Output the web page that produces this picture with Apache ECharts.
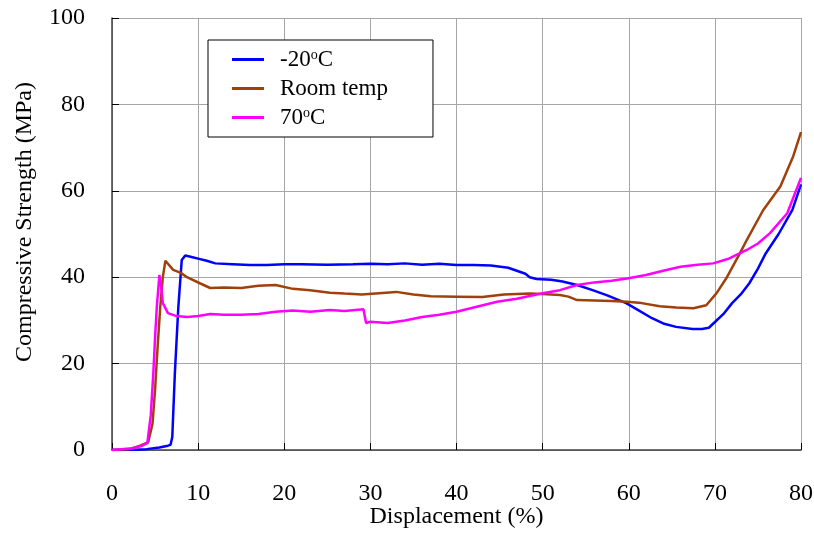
<!DOCTYPE html>
<html lang="en">
<head>
    <meta charset="UTF-8">
    <title>Compressive Strength</title>
    <style>
        html, body { margin: 0; padding: 0; background: #fff; }
    </style>
</head>
<body>
<div id="main" style="width: 814px;height:534px;"></div>
<script src="https://cdn.jsdelivr.net/npm/echarts@6/dist/echarts.min.js"></script>
<script>
    // 图例名称
    var seriesNames = ['-20oC', 'Room temp', '70oC'];

    // -20oC
    var coldX = [0, 2, 4, 5.5, 6.5, 6.8, 7.0, 7.3, 7.7, 8.1, 8.5, 9, 10, 11, 12, 14, 16, 18, 20, 22, 25, 28, 30, 32, 34, 36, 38, 40, 42, 44, 46, 47, 48, 48.5, 49.3, 51, 52.3, 54, 55.8, 57.5, 59.7, 61, 62.7, 64, 65.5, 67.4, 68.5, 69.3, 70.1, 71, 72, 73, 74, 75, 75.9, 77.4, 79, 80];
    var coldY = [0, 0, 0.2, 0.6, 1, 1.2, 3, 17.8, 33, 44, 45, 44.8, 44.3, 43.8, 43.2, 43, 42.8, 42.8, 43, 43, 42.9, 43, 43.1, 43, 43.2, 42.9, 43.1, 42.8, 42.8, 42.7, 42.2, 41.5, 40.8, 40, 39.6, 39.4, 39, 38.2, 37, 35.8, 34, 32.5, 30.5, 29.3, 28.5, 28, 28, 28.3, 29.8, 31.5, 34, 36, 38.6, 42, 45.5, 50, 55.6, 61.5];

    // Room temp
    var roomX = [0, 2, 3, 4.2, 4.7, 5, 5.3, 5.6, 5.9, 6.2, 6.4, 7.1, 8, 8.7, 10.2, 11.4, 13, 15, 17, 19, 21, 23, 25.3, 27, 29, 31, 33, 35, 37, 40, 43, 45.5, 48.5, 50, 52, 53, 54, 56, 58, 59.8, 61.5, 63.6, 65.5, 67.5, 69, 70.2, 71.4, 72.9, 73.7, 75.6, 77.6, 79.1, 80];
    var roomY = [0, 0.2, 0.8, 1.8, 6, 13.9, 24, 33, 40, 43.8, 43.5, 41.7, 41, 40, 38.6, 37.5, 37.6, 37.5, 38, 38.2, 37.3, 37, 36.4, 36.2, 36, 36.3, 36.6, 36, 35.6, 35.5, 35.4, 36, 36.2, 36.1, 35.9, 35.5, 34.7, 34.6, 34.5, 34.3, 34, 33.3, 33, 32.8, 33.5, 36.3, 40, 45.5, 48.6, 55.5, 61, 68, 73.6];

    // 70oC
    var hotX = [0, 2.4, 3.5, 4.1, 4.5, 4.8, 5, 5.2, 5.5, 5.7, 5.9, 6.5, 7.5, 8.7, 10, 11.4, 13, 15, 17, 19, 21, 23, 25.3, 27, 29.2, 29.5, 30, 32, 34, 36, 38, 40, 42, 44.7, 47, 50, 52, 54, 56, 58, 59.8, 62, 64, 66, 68, 69.8, 71.5, 73.7, 75, 76.4, 78.4, 80];
    var hotY = [0, 0.4, 1, 1.6, 8, 17.8, 26, 33, 40.5, 38, 34, 31.7, 31, 30.8, 31, 31.5, 31.3, 31.3, 31.5, 32, 32.3, 32, 32.4, 32.2, 32.6, 29.4, 29.7, 29.4, 30, 30.8, 31.3, 32, 33, 34.3, 35, 36.3, 37, 38.2, 38.8, 39.2, 39.7, 40.5, 41.5, 42.4, 42.9, 43.2, 44.2, 46.3, 47.8, 50.2, 54.8, 63];

    var colors = ['#0000ff', '#a0400a', '#ff00ff'];

    function pairs(xs, ys) {
        var out = [];
        for (var i = 0; i < xs.length; i++) out.push([xs[i], ys[i]]);
        return out;
    }

    var font = 'Liberation Serif';
    var myChart = echarts.init(document.getElementById('main'));

    var option = {
        backgroundColor: '#fff',
        animation: false,
        grid: { left: 112, right: 13, top: 18, bottom: 84, outerBoundsMode: 'none', containLabel: false },
        legend: {
            orient: 'vertical',
            left: 208,
            top: 40,
            padding: [8, 45, 8, 24],
            itemGap: 6,
            itemWidth: 32,
            itemHeight: 3,
            icon: 'rect',
            backgroundColor: '#fff',
            borderColor: '#000',
            borderWidth: 1,
            data: seriesNames,
            formatter: function (name) {
                return name.replace('oC', '{s|o}C');
            },
            textStyle: {
                fontFamily: font,
                fontSize: 23,
                color: '#000',
                padding: [0, 0, 0, 11],
                rich: {
                    s: { fontFamily: font, fontSize: 14, color: '#000', verticalAlign: 'top', padding: [0, 0, 8, 0] }
                }
            }
        },
        xAxis: {
            type: 'value',
            min: 0,
            max: 80,
            interval: 10,
            name: 'Displacement (%)',
            nameLocation: 'middle',
            nameGap: 55,
            nameMoveOverlap: false,
            nameTextStyle: { fontFamily: font, fontSize: 24, color: '#000' },
            axisLine: { lineStyle: { color: '#404040', width: 1.5 } },
            axisTick: { inside: true, length: 7, lineStyle: { color: '#000' } },
            axisLabel: { margin: 32, fontFamily: font, fontSize: 24, color: '#000' },
            splitLine: { show: true, lineStyle: { color: '#a6a6a6', width: 1 } }
        },
        yAxis: {
            type: 'value',
            min: 0,
            max: 100,
            interval: 20,
            name: 'Compressive Strength (MPa)',
            nameLocation: 'middle',
            nameGap: 75,
            nameMoveOverlap: false,
            nameTextStyle: { fontFamily: font, fontSize: 24, color: '#000', padding: [0, 0, 0, 24] },
            axisLine: { lineStyle: { color: '#404040', width: 1.5 } },
            axisTick: { inside: true, length: 7, lineStyle: { color: '#000' } },
            axisLabel: { margin: 27, fontFamily: font, fontSize: 24, color: '#000' },
            splitLine: { show: true, lineStyle: { color: '#a6a6a6', width: 1 } }
        },
        series: [
            {
                name: seriesNames[0], type: 'line', symbol: 'none',
                data: pairs(coldX, coldY),
                itemStyle: { color: colors[0] },
                lineStyle: { color: colors[0], width: 2.5 }
            },
            {
                name: seriesNames[1], type: 'line', symbol: 'none',
                data: pairs(roomX, roomY),
                itemStyle: { color: colors[1] },
                lineStyle: { color: colors[1], width: 2.5 }
            },
            {
                name: seriesNames[2], type: 'line', symbol: 'none',
                data: pairs(hotX, hotY),
                itemStyle: { color: colors[2] },
                lineStyle: { color: colors[2], width: 2.5 }
            }
        ]
    };

    myChart.setOption(option);
</script>
</body>
</html>
